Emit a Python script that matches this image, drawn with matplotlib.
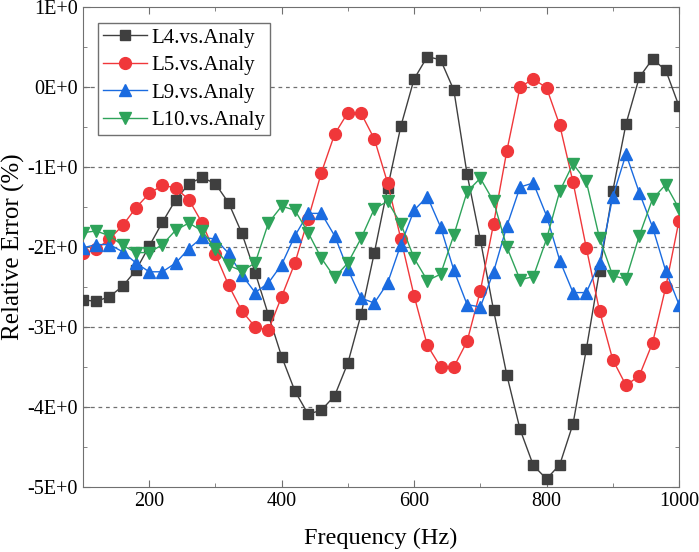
import numpy as np
import matplotlib
matplotlib.use('Agg')
import matplotlib.pyplot as plt
from matplotlib.ticker import MultipleLocator

plt.rcParams['font.family'] = ['Liberation Serif', 'DejaVu Serif']
plt.rcParams['mathtext.fontset'] = 'stix'

freq = np.arange(100, 1001, 20)

l4 = [-2.66, -2.68, -2.62, -2.49, -2.29, -1.99, -1.69, -1.41, -1.21, -1.13,
      -1.21, -1.45, -1.83, -2.32, -2.85, -3.37, -3.80, -4.09, -4.04, -3.86,
      -3.45, -2.84, -2.07, -1.26, -0.49, 0.10, 0.38, 0.34, -0.04, -1.09,
      -1.91, -2.79, -3.60, -4.28, -4.73, -4.90, -4.72, -4.21, -3.28, -2.30,
      -1.30, -0.46, 0.12, 0.35, 0.21, -0.24]
l5 = [-2.08, -2.03, -1.90, -1.73, -1.51, -1.33, -1.23, -1.26, -1.41, -1.70,
      -2.09, -2.48, -2.80, -3.00, -3.04, -2.62, -2.20, -1.65, -1.07, -0.59,
      -0.32, -0.33, -0.65, -1.20, -1.90, -2.61, -3.23, -3.50, -3.50, -3.18,
      -2.55, -1.71, -0.80, 0.00, 0.10, -0.01, -0.48, -1.19, -2.01, -2.80,
      -3.41, -3.73, -3.61, -3.20, -2.50, -1.67]
l9 = [-2.01, -1.97, -1.97, -2.06, -2.20, -2.31, -2.31, -2.20, -2.02, -1.88,
      -1.90, -2.08, -2.35, -2.57, -2.45, -2.22, -1.86, -1.58, -1.58, -1.86,
      -2.28, -2.64, -2.70, -2.45, -1.97, -1.54, -1.37, -1.75, -2.29, -2.72,
      -2.75, -2.31, -1.74, -1.25, -1.20, -1.61, -2.17, -2.57, -2.57, -2.20,
      -1.37, -0.84, -1.32, -1.75, -2.30, -2.72]
l10 = [-1.82, -1.80, -1.86, -1.98, -2.07, -2.07, -1.97, -1.79, -1.70, -1.80,
       -2.02, -2.23, -2.30, -2.20, -1.70, -1.49, -1.54, -1.82, -2.14, -2.38,
       -2.20, -1.89, -1.52, -1.43, -1.71, -2.14, -2.42, -2.34, -1.85, -1.31,
       -1.14, -1.43, -2.00, -2.41, -2.37, -1.90, -1.30, -0.96, -1.18, -1.89,
       -2.36, -2.40, -1.86, -1.40, -1.22, -1.52]

series = [
    (l4, 'L4.vs.Analy', '#3f3f3f', 's', 7.5),
    (l5, 'L5.vs.Analy', '#f0373a', 'o', 8.5),
    (l9, 'L9.vs.Analy', '#1a6be0', '^', 9),
    (l10, 'L10.vs.Analy', '#2ea35a', 'v', 9),
]

fig = plt.figure(figsize=(6.99, 5.52), dpi=100)
ax = fig.add_axes([0.1187, 0.1178, 0.9714 - 0.1187, 0.9873 - 0.1178])

for yv in [0, -1, -2, -3, -4]:
    ax.axhline(yv, color='#707070', ls=(0, (3, 3)), lw=0.9, zorder=1)

for vals, name, col, mk, ms in series:
    ax.plot(freq, vals, color=col, lw=1.0, marker=mk, ms=ms, label=name, zorder=3)

ax.set_xlim(100, 1000)
ax.set_ylim(-5, 1)
ax.xaxis.set_major_locator(MultipleLocator(200))
ax.xaxis.set_minor_locator(MultipleLocator(100))
ax.yaxis.set_major_locator(MultipleLocator(1))
ax.yaxis.set_minor_locator(MultipleLocator(0.5))
ax.set_yticks([1, 0, -1, -2, -3, -4, -5])
ax.set_yticklabels(['1E+0', '0E+0', '-1E+0', '-2E+0', '-3E+0', '-4E+0', '-5E+0'])
ax.tick_params(which='both', direction='in', top=True, right=True,
               color='#707070', labelsize=14.5)
ax.tick_params(which='major', length=5)
ax.tick_params(which='minor', length=3)
for sp in ax.spines.values():
    sp.set_color('#707070')

ax.set_xlabel('Frequency (Hz)', fontsize=17.5, labelpad=12)
ax.set_ylabel('Relative Error (%)', fontsize=18, labelpad=2)

leg = ax.legend(loc='upper left', bbox_to_anchor=(0.025, 0.967), borderaxespad=0,
                fontsize=15, fancybox=False, edgecolor='#707070', framealpha=1,
                handlelength=2.1, borderpad=0.25, labelspacing=0.38,
                handletextpad=0.2)
leg.get_frame().set_linewidth(1.0)

fig.savefig('out.png', dpi=100)
